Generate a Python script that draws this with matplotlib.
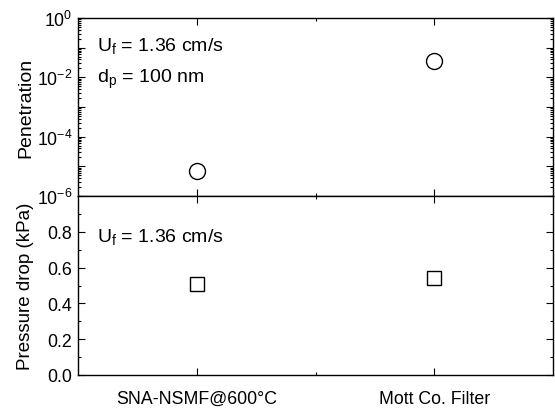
import matplotlib
matplotlib.use("Agg")
import matplotlib.pyplot as plt
from matplotlib.ticker import LogLocator, FixedLocator, MultipleLocator, NullFormatter, FuncFormatter
import numpy as np

plt.rcParams['font.family'] = ['Liberation Sans', 'DejaVu Sans']
plt.rcParams['mathtext.fontset'] = 'custom'
plt.rcParams['mathtext.rm'] = 'Liberation Sans'
plt.rcParams['mathtext.it'] = 'Liberation Sans'

# Datos
categorias = ['SNA-NSMF@600\u00b0C', 'Mott Co. Filter']
penetracion = [7.0e-6, 3.5e-2]
caida_presion = [0.51, 0.54]  # kPa

x = np.arange(len(categorias))

fig = plt.figure(figsize=(5.55, 4.1), dpi=100)
ax1 = fig.add_axes([78 / 555, 1 - 197 / 410, (553 - 78) / 555, (197 - 19) / 410])
ax2 = fig.add_axes([78 / 555, 1 - 376 / 410, (553 - 78) / 555, (376 - 197) / 410])

# --- Penetracion ---
ax1.plot(x, penetracion, 'o', ms=11.5, mfc='white', mec='black', mew=1.0)
ax1.set_yscale('log')
ax1.set_ylim(1e-6, 1)
ax1.set_xlim(-0.5, 1.5)
ax1.yaxis.set_major_locator(LogLocator(base=10, numticks=20))
ax1.yaxis.set_minor_locator(LogLocator(base=10, subs=np.arange(2, 10), numticks=20))
ax1.yaxis.set_major_formatter(FuncFormatter(
    lambda v, p: r'$10^{%d}$' % round(np.log10(v)) if round(np.log10(v)) % 2 == 0 else ''))
ax1.yaxis.set_minor_formatter(NullFormatter())
ax1.set_xticks(x)
ax1.xaxis.set_minor_locator(FixedLocator([0.5]))
ax1.tick_params(labelbottom=False)
ax1.set_ylabel('Penetration', fontsize=14)
ax1.text(0.04, 0.82, r'U$_\mathregular{f}$ = 1.36 cm/s', transform=ax1.transAxes, fontsize=14)
ax1.text(0.04, 0.64, r'd$_\mathregular{p}$ = 100 nm', transform=ax1.transAxes, fontsize=14)

# --- Caida de presion ---
ax2.plot(x, caida_presion, 's', ms=10, mfc='white', mec='black', mew=1.0)
ax2.set_ylim(0, 1.0)
ax2.set_xlim(-0.5, 1.5)
ax2.set_yticks([0.0, 0.2, 0.4, 0.6, 0.8])
ax2.yaxis.set_major_formatter(FuncFormatter(lambda v, p: '%.1f' % v))
ax2.yaxis.set_minor_locator(MultipleLocator(0.1))
ax2.set_xticks(x)
ax2.set_xticklabels(categorias)
ax2.xaxis.set_minor_locator(FixedLocator([0.5]))
ax2.set_ylabel('Pressure drop (kPa)', fontsize=13.5)
ax2.text(0.04, 0.75, r'U$_\mathregular{f}$ = 1.36 cm/s', transform=ax2.transAxes, fontsize=14)

for ax in (ax1, ax2):
    ax.tick_params(which='both', direction='in', top=True, right=True, labelsize=12.8, width=0.8)
    ax.tick_params(which='major', length=5)
    ax.tick_params(which='minor', length=2.5)
    ax.tick_params(axis='x', which='major', pad=11)
    ax.tick_params(axis='y', which='major', pad=4)
    ax.yaxis.set_label_coords(-0.092, 0.5)
    for s in ax.spines.values():
        s.set_linewidth(1.0)

fig.savefig('out.png', dpi=100)
